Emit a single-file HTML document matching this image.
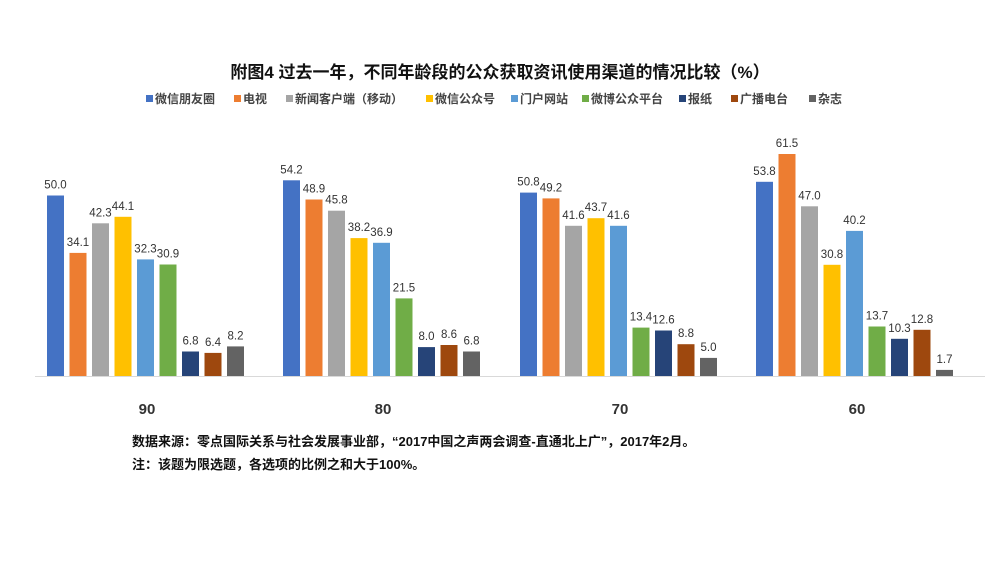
<!DOCTYPE html>
<html><head><meta charset="utf-8"><style>
body{margin:0;background:#fff;}
svg text{font-family:"Liberation Sans","Noto Sans CJK SC",sans-serif;}
</style></head><body>
<svg width="1000" height="562" viewBox="0 0 1000 562" xmlns="http://www.w3.org/2000/svg">
<text x="500" y="78" text-anchor="middle" font-size="17" font-weight="bold" fill="#111">附图4  过去一年，不同年龄段的公众获取资讯使用渠道的情况比较（%）</text>
<g font-size="12" font-weight="bold" fill="#444">
<rect x="146" y="95" width="7" height="7" fill="#4472C4"/><text x="155" y="103">微信朋友圈</text>
<rect x="234" y="95" width="7" height="7" fill="#ED7D31"/><text x="243" y="103">电视</text>
<rect x="286" y="95" width="7" height="7" fill="#A5A5A5"/><text x="295" y="103">新闻客户端（移动）</text>
<rect x="426" y="95" width="7" height="7" fill="#FFC000"/><text x="435" y="103">微信公众号</text>
<rect x="511" y="95" width="7" height="7" fill="#5B9BD5"/><text x="520" y="103">门户网站</text>
<rect x="582" y="95" width="7" height="7" fill="#70AD47"/><text x="591" y="103">微博公众平台</text>
<rect x="679" y="95" width="7" height="7" fill="#264478"/><text x="688" y="103">报纸</text>
<rect x="731" y="95" width="7" height="7" fill="#9E480E"/><text x="740" y="103">广播电台</text>
<rect x="809" y="95" width="7" height="7" fill="#636363"/><text x="818" y="103">杂志</text>
</g>
<line x1="35" y1="376.5" x2="985" y2="376.5" stroke="#d9d9d9" stroke-width="1"/>
<g>
<rect x="47" y="195.5" width="17" height="180.5" fill="#4472C4"/>
<rect x="69.5" y="252.9" width="17" height="123.1" fill="#ED7D31"/>
<rect x="92" y="223.3" width="17" height="152.7" fill="#A5A5A5"/>
<rect x="114.5" y="216.8" width="17" height="159.2" fill="#FFC000"/>
<rect x="137" y="259.4" width="17" height="116.6" fill="#5B9BD5"/>
<rect x="159.5" y="264.5" width="17" height="111.5" fill="#70AD47"/>
<rect x="182" y="351.5" width="17" height="24.5" fill="#264478"/>
<rect x="204.5" y="352.9" width="17" height="23.1" fill="#9E480E"/>
<rect x="227" y="346.4" width="17" height="29.6" fill="#636363"/>

<rect x="283" y="180.3" width="17" height="195.7" fill="#4472C4"/>
<rect x="305.5" y="199.5" width="17" height="176.5" fill="#ED7D31"/>
<rect x="328" y="210.7" width="17" height="165.3" fill="#A5A5A5"/>
<rect x="350.5" y="238.1" width="17" height="137.9" fill="#FFC000"/>
<rect x="373" y="242.8" width="17" height="133.2" fill="#5B9BD5"/>
<rect x="395.5" y="298.4" width="17" height="77.6" fill="#70AD47"/>
<rect x="418" y="347.1" width="17" height="28.9" fill="#264478"/>
<rect x="440.5" y="345" width="17" height="31" fill="#9E480E"/>
<rect x="463" y="351.5" width="17" height="24.5" fill="#636363"/>

<rect x="520" y="192.6" width="17" height="183.4" fill="#4472C4"/>
<rect x="542.5" y="198.4" width="17" height="177.6" fill="#ED7D31"/>
<rect x="565" y="225.8" width="17" height="150.2" fill="#A5A5A5"/>
<rect x="587.5" y="218.2" width="17" height="157.8" fill="#FFC000"/>
<rect x="610" y="225.8" width="17" height="150.2" fill="#5B9BD5"/>
<rect x="632.5" y="327.6" width="17" height="48.4" fill="#70AD47"/>
<rect x="655" y="330.5" width="17" height="45.5" fill="#264478"/>
<rect x="677.5" y="344.2" width="17" height="31.8" fill="#9E480E"/>
<rect x="700" y="357.9" width="17" height="18.1" fill="#636363"/>

<rect x="756" y="181.8" width="17" height="194.2" fill="#4472C4"/>
<rect x="778.5" y="154" width="17" height="222" fill="#ED7D31"/>
<rect x="801" y="206.3" width="17" height="169.7" fill="#A5A5A5"/>
<rect x="823.5" y="264.8" width="17" height="111.2" fill="#FFC000"/>
<rect x="846" y="230.9" width="17" height="145.1" fill="#5B9BD5"/>
<rect x="868.5" y="326.5" width="17" height="49.5" fill="#70AD47"/>
<rect x="891" y="338.8" width="17" height="37.2" fill="#264478"/>
<rect x="913.5" y="329.8" width="17" height="46.2" fill="#9E480E"/>
<rect x="936" y="369.9" width="17" height="6.1" fill="#636363"/>
</g>
<g font-size="11.5" fill="#333" text-anchor="middle">
<text x="55.5" y="188.5">50.0</text><text x="78" y="245.9">34.1</text><text x="100.5" y="216.3">42.3</text><text x="123" y="209.8">44.1</text><text x="145.5" y="252.4">32.3</text><text x="168" y="257.5">30.9</text><text x="190.5" y="344.5">6.8</text><text x="213" y="345.9">6.4</text><text x="235.5" y="339.4">8.2</text>
<text x="291.5" y="173.3">54.2</text><text x="314" y="192.5">48.9</text><text x="336.5" y="203.7">45.8</text><text x="359" y="231.1">38.2</text><text x="381.5" y="235.8">36.9</text><text x="404" y="291.4">21.5</text><text x="426.5" y="340.1">8.0</text><text x="449" y="338">8.6</text><text x="471.5" y="344.5">6.8</text>
<text x="528.5" y="185.6">50.8</text><text x="551" y="191.4">49.2</text><text x="573.5" y="218.8">41.6</text><text x="596" y="211.2">43.7</text><text x="618.5" y="218.8">41.6</text><text x="641" y="320.6">13.4</text><text x="663.5" y="323.5">12.6</text><text x="686" y="337.2">8.8</text><text x="708.5" y="350.9">5.0</text>
<text x="764.5" y="174.8">53.8</text><text x="787" y="147">61.5</text><text x="809.5" y="199.3">47.0</text><text x="832" y="257.8">30.8</text><text x="854.5" y="223.9">40.2</text><text x="877" y="319.5">13.7</text><text x="899.5" y="331.8">10.3</text><text x="922" y="322.8">12.8</text><text x="944.5" y="362.9">1.7</text>
</g>
<g font-size="15" font-weight="bold" fill="#333" text-anchor="middle">
<text x="147" y="414">90</text><text x="383" y="414">80</text><text x="620" y="414">70</text><text x="857" y="414">60</text>
</g>
<g font-size="13" font-weight="bold" fill="#111">
<text x="132" y="446">数据来源：零点国际关系与社会发展事业部，“2017中国之声两会调查-直通北上广”，2017年2月。</text>
<text x="132" y="469">注：该题为限选题，各选项的比例之和大于100%。</text>
</g>
</svg>
</body></html>
